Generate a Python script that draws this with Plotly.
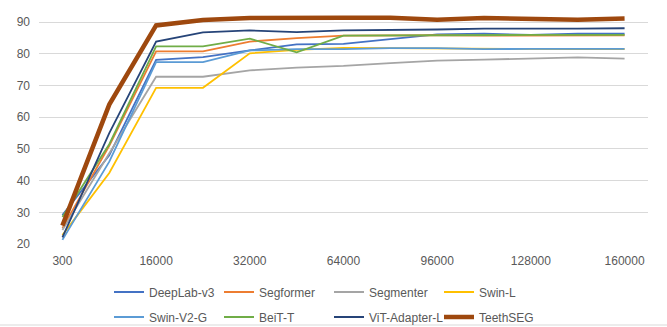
import plotly.graph_objects as go

categories = ["300", "8000", "16000", "24000", "32000", "48000", "64000",
              "80000", "96000", "112000", "128000", "144000", "160000"]
tick_labels = ["300", "16000", "32000", "64000", "96000", "128000", "160000"]

deeplab_v3 = [29.1, 48.0, 78.1, 79.0, 81.1, 83.0, 83.2, 84.8, 86.2, 86.4, 86.0, 86.4, 86.4]
segformer = [25.0, 51.0, 80.8, 80.8, 83.9, 85.0, 85.8, 85.9, 85.9, 85.8, 85.9, 85.9, 85.9]
segmenter = [24.4, 48.5, 72.8, 72.8, 74.8, 75.7, 76.2, 77.1, 77.9, 78.2, 78.5, 78.9, 78.5]
swin_l = [22.8, 42.4, 69.3, 69.3, 80.2, 81.3, 81.9, 81.8, 81.6, 81.5, 81.5, 81.5, 81.5]
swin_v2_g = [21.3, 46.0, 77.4, 77.4, 81.1, 81.5, 81.5, 81.8, 81.8, 81.5, 81.6, 81.6, 81.6]
beit_t = [28.5, 51.5, 82.4, 82.4, 84.8, 80.5, 85.8, 85.9, 86.0, 86.0, 86.0, 86.0, 86.0]
vit_adapter_l = [22.1, 55.0, 83.9, 86.8, 87.4, 86.9, 87.4, 87.5, 87.7, 88.0, 87.9, 88.0, 88.1]
teethseg = [25.8, 64.0, 89.0, 90.7, 91.3, 91.2, 91.4, 91.4, 90.8, 91.3, 91.1, 90.8, 91.2]

series = [
    ("DeepLab-v3", deeplab_v3, "#4472C4", 1.8, "legend"),
    ("Segformer", segformer, "#ED7D31", 1.8, "legend"),
    ("Segmenter", segmenter, "#A5A5A5", 1.8, "legend"),
    ("Swin-L", swin_l, "#FFC000", 1.8, "legend"),
    ("Swin-V2-G", swin_v2_g, "#5B9BD5", 1.8, "legend2"),
    ("BeiT-T", beit_t, "#70AD47", 1.8, "legend2"),
    ("ViT-Adapter-L", vit_adapter_l, "#264478", 1.8, "legend2"),
    ("TeethSEG", teethseg, "#9E480E", 4.5, "legend2"),
]

FONT = "Liberation Sans"
GREY = "#595959"

fig = go.Figure()
for name, vals, color, width, leg in series:
    fig.add_trace(go.Scatter(
        x=categories, y=vals, mode="lines", name=name,
        line=dict(color=color, width=width), legend=leg,
    ))

legend_common = dict(
    orientation="h", xref="container", yref="container",
    xanchor="left", yanchor="middle",
    entrywidth=65, entrywidthmode="pixels",
    font=dict(family=FONT, size=12, color=GREY),
    bgcolor="rgba(0,0,0,0)", itemwidth=30, tracegroupgap=0,
)

fig.update_layout(
    width=667, height=327,
    margin=dict(l=39, r=19, t=14, b=83, autoexpand=False),
    paper_bgcolor="white", plot_bgcolor="white",
    font=dict(family=FONT, size=12, color=GREY),
    hovermode=False,
    xaxis=dict(
        type="category", categoryorder="array", categoryarray=categories,
        range=[-0.5, len(categories) - 0.5],
        tickmode="array", tickvals=categories[::2], ticktext=tick_labels,
        showgrid=False, showline=False, zeroline=False, ticks="",
        ticklabelstandoff=8,
        tickfont=dict(family=FONT, size=12, color=GREY),
    ),
    yaxis=dict(
        range=[20, 92.6], tickmode="array",
        tickvals=[20, 30, 40, 50, 60, 70, 80, 90],
        showgrid=True, gridcolor="#D9D9D9", gridwidth=1,
        zeroline=False, showline=False, ticks="",
        ticklabelstandoff=8,
        tickfont=dict(family=FONT, size=12, color=GREY),
    ),
    legend=dict(x=109 / 667, y=1 - 292 / 327, **legend_common),
    legend2=dict(x=109 / 667, y=1 - 317 / 327, **legend_common),
    shapes=[dict(type="line", xref="paper", yref="paper",
                 x0=-39 / 609, x1=628 / 609, y0=-(325 - 244) / 230, y1=-(325 - 244) / 230,
                 line=dict(color="#D9D9D9", width=1))],
)

fig.write_html("out.html", config={"displayModeBar": False},
               post_script="document.body.style.margin='0';")
